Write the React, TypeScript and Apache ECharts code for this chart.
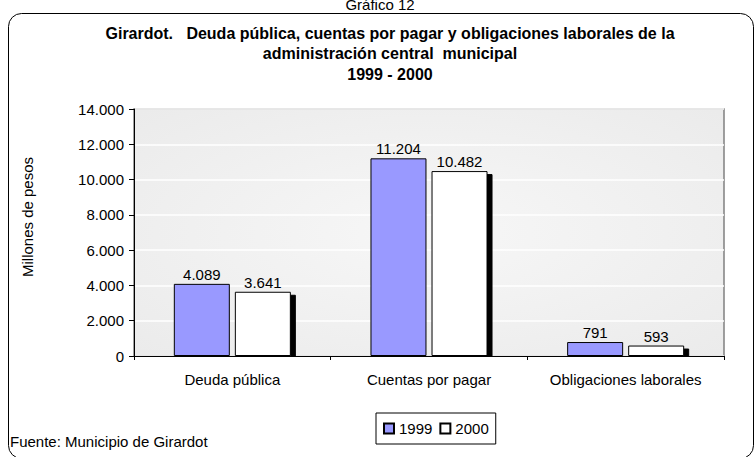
import React, { useEffect, useRef } from "react";
import * as echarts from "echarts";

const categories = ["Deuda pública", "Cuentas por pagar", "Obligaciones laborales"];
const values1999 = [4089, 11204, 791];
const values2000 = [3641, 10482, 593];
const seriesNames = ["1999", "2000"];
const titleLines = [
  "Girardot.   Deuda pública, cuentas por pagar y obligaciones laborales de la",
  "administración central  municipal",
  "1999 - 2000",
];

const FONT = "'Liberation Sans', Arial, sans-serif";

function fmt(v: number): string {
  const s = Math.round(v).toString();
  return s.replace(/\B(?=(\d{3})+(?!\d))/g, ".");
}

export default function App() {
  const ref = useRef<HTMLDivElement>(null);
  useEffect(() => {
    if (!ref.current) return;
    const chart = echarts.init(ref.current, null, { renderer: "svg" });
    const labelCfg = {
      show: true,
      position: "top" as const,
      color: "#000",
      fontFamily: FONT,
      fontSize: 15,
      distance: 2,
      formatter: (p: any) => fmt(p.value),
    };
    chart.setOption({
      animation: false,
      backgroundColor: "#fff",
      textStyle: { fontFamily: FONT },
      graphic: [
        {
          type: "rect",
          shape: { x: 8.5, y: 13.5, width: 745, height: 445, r: 13 },
          style: { fill: "none", stroke: "#000", lineWidth: 1 },
          silent: true,
        },
        {
          type: "rect",
          z: 3,
          shape: { x: 136, y: 357, width: 587, height: 8 },
          style: { fill: "#fff" },
          silent: true,
        },
        {
          type: "text",
          x: 380,
          y: 4,
          style: {
            text: "Gráfico 12",
            fontFamily: FONT,
            fontSize: 15,
            fill: "#000",
            textAlign: "center",
            textVerticalAlign: "middle",
          },
        },
        ...titleLines.map((t, i) => ({
          type: "text",
          x: 390,
          y: 33 + i * 20.5,
          style: {
            text: t,
            fontFamily: FONT,
            fontSize: 16,
            fontWeight: "bold",
            fill: "#000",
            textAlign: "center",
            textVerticalAlign: "middle",
          },
        })),
        {
          type: "text",
          x: 27,
          y: 217,
          rotation: Math.PI / 2,
          style: {
            text: "Millones de pesos",
            fontFamily: FONT,
            fontSize: 15,
            fill: "#000",
            textAlign: "center",
            textVerticalAlign: "middle",
          },
        },
        {
          type: "text",
          x: 10,
          y: 441,
          style: {
            text: "Fuente: Municipio de Girardot",
            fontFamily: FONT,
            fontSize: 15,
            fill: "#000",
            textAlign: "left",
            textVerticalAlign: "middle",
          },
        },
      ],
      grid: {
        left: 134,
        right: 30,
        top: 109,
        bottom: 101,
        show: true,
        borderColor: "#808080",
        borderWidth: 1.5,
        backgroundColor: {
          type: "radial",
          x: 0.5,
          y: 0.5,
          r: 0.75,
          colorStops: [
            { offset: 0, color: "#f7f7f7" },
            { offset: 1, color: "#eaeaea" },
          ],
        },
      },
      legend: {
        data: seriesNames,
        left: 376,
        top: 413,
        padding: [8, 7],
        itemWidth: 10,
        itemHeight: 10,
        itemGap: 7,
        icon: "rect",
        borderColor: "#000",
        borderWidth: 1,
        backgroundColor: "#fff",
        textStyle: { fontFamily: FONT, fontSize: 15, color: "#000", padding: [0, 0, 0, 0] },
      },
      xAxis: {
        type: "category",
        data: categories,
        z: 4,
        axisLine: { lineStyle: { color: "#000", width: 1 } },
        axisTick: { show: true, length: 4, lineStyle: { color: "#000" } },
        axisLabel: { interval: 0, fontFamily: FONT, fontSize: 15, color: "#000", margin: 16 },
      },
      yAxis: {
        type: "value",
        min: 0,
        max: 14000,
        interval: 2000,
        axisLine: { show: true, lineStyle: { color: "#000", width: 1 } },
        axisTick: { show: true, length: 5, lineStyle: { color: "#000" } },
        axisLabel: {
          fontFamily: FONT,
          fontSize: 15,
          color: "#000",
          margin: 10,
          formatter: (v: number) => fmt(v),
        },
        splitLine: { show: true, lineStyle: { color: "#ffffff", width: 1.5 } },
      },
      series: [
        {
          name: seriesNames[0],
          type: "bar",
          data: values1999,
          barWidth: 56,
          barGap: "9%",
          itemStyle: { color: "#9999ff", borderColor: "#000", borderWidth: 1 },
          label: labelCfg,
        },
        {
          name: seriesNames[1],
          type: "bar",
          data: values2000,
          barWidth: 56,
          itemStyle: {
            color: "#ffffff",
            borderColor: "#000",
            borderWidth: 1,
            shadowColor: "#000",
            shadowBlur: 0,
            shadowOffsetX: 5,
            shadowOffsetY: 3,
          },
          label: labelCfg,
        },
      ],
    });
    return () => chart.dispose();
  }, []);
  return (
    <div
      ref={ref}
      style={{ position: "fixed", left: 0, top: 0, width: 754, height: 457 }}
    />
  );
}
